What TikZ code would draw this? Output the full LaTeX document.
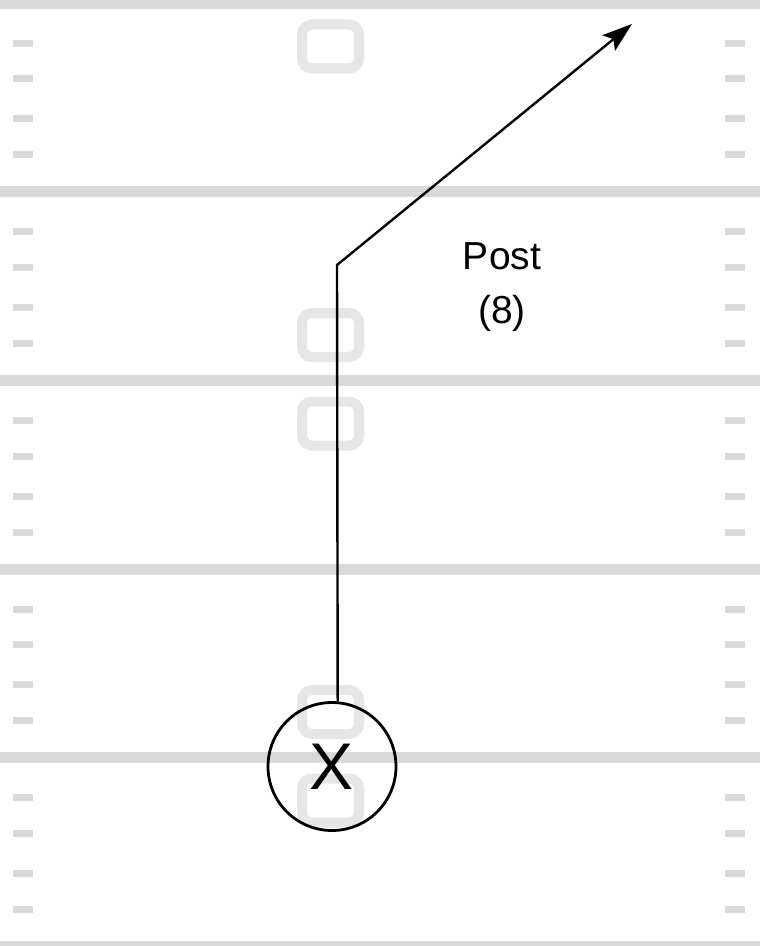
\documentclass[tikz,border=0pt]{standalone}
\usepackage{fontspec}
\setmainfont{Liberation Sans}
\usetikzlibrary{arrows.meta}
\definecolor{fieldgray}{RGB}{217,217,217}
\definecolor{numgray}{RGB}{230,230,230}
\begin{document}
\begin{tikzpicture}[x=0.5pt,y=-0.5pt,
    yardline/.style={fieldgray, line width=5.5pt},
    hashmark/.style={fill=fieldgray},
    numring/.style={numgray, line width=5pt, rounded corners=5pt},
    route/.style={line width=1.2pt, -{Stealth[length=15pt,width=10pt,inset=3pt]}},
    player/.style={circle, draw, line width=1.4pt, minimum size=64pt, inner sep=0pt,
      font=\fontsize{33}{40}\selectfont}]
  \useasboundingbox (0,0) rectangle (760,946);
  \fill[white] (0,0) rectangle (760,946);
  \foreach \k in {0,...,5}
    \draw[yardline] (0,{3.5+188.5*\k}) -- (760,{3.5+188.5*\k});
  \foreach \k in {0,...,4} {
    \foreach \h in {43.5,79,119,155} {
      \fill[hashmark] (13,{188.5*\k+\h-3.5}) rectangle (33,{188.5*\k+\h+3.5});
      \fill[hashmark] (725,{188.5*\k+\h-3.5}) rectangle (745,{188.5*\k+\h+3.5});
    }
  }
  \foreach \k in {0,2,4}
    \draw[numring] (302,{3.5+188.5*\k+43-22}) rectangle +(57,44);
  \foreach \k in {2,4}
    \draw[numring] (302,{3.5+188.5*\k-45.5-22}) rectangle +(57,44);
  \node[player] (player) at (332,766.5) {X};
  \coordinate (break) at (337,265);
  \coordinate (tip) at (632,24);
  \draw[route] (player.85.5) -- (break) -- (tip);
  \node[font=\fontsize{19.5}{27}\selectfont, align=center, anchor=north, inner sep=0pt]
    (label) at (502,242) {Post\\(8)};
\end{tikzpicture}
\end{document}
